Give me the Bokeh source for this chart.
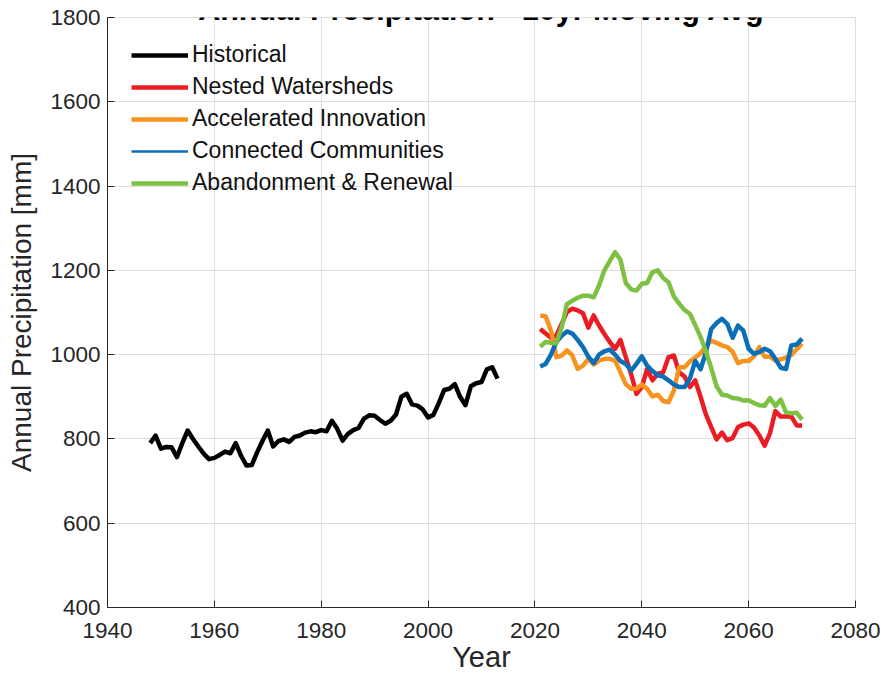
from bokeh.plotting import figure
from bokeh.models import Range1d, FixedTicker, Legend, LegendItem, Label, ColumnDataSource
from bokeh.embed import file_html
from bokeh.resources import INLINE

# ---------------- data ----------------
hist_years = list(range(1948, 2014))
hist_vals = [790, 808, 777, 781, 780, 757, 790, 820, 800, 782,
             765, 752, 755, 762, 770, 766, 790, 760, 737, 738,
             768, 795, 820, 782, 795, 799, 793, 805, 808, 815,
             818, 816, 821, 818, 843, 824, 796, 812, 821, 826,
             848, 856, 855, 845, 836, 843, 858, 900, 907, 882,
             879, 870, 851, 857, 885, 916, 919, 930, 900, 880,
             925, 932, 935, 965, 970, 943]

scen_years = list(range(2021, 2071))
nested = [1061, 1050, 1040, 1045, 1073, 1101, 1109, 1105, 1098, 1064,
          1093, 1069, 1049, 1030, 1014, 1035, 994, 954, 907, 923,
          966, 939, 955, 958, 994, 998, 958, 948, 923, 939,
          900, 858, 828, 799, 815, 797, 802, 828, 834, 837,
          827, 808, 784, 814, 866, 853, 853, 853, 832, 832]
accelerated = [1093, 1091, 1057, 994, 998, 1010, 998, 966, 974, 990,
               977, 986, 990, 990, 986, 958, 930, 919, 919, 929,
               919, 901, 905, 890, 887, 915, 970, 970, 984, 993,
               1003, 1020, 1033, 1028, 1022, 1018, 1007, 980, 985, 985,
               996, 1018, 995, 995, 986, 989, 993, 999, 1013, 1026]
connected = [972, 978, 1000, 1030, 1045, 1055, 1050, 1035, 1018, 995,
             980, 1000, 1008, 1012, 1000, 985, 978, 962, 978, 996,
             974, 961, 951, 948, 939, 929, 923, 923, 943, 985,
             965, 1005, 1061, 1075, 1085, 1073, 1040, 1069, 1057, 1014,
             1002, 1006, 1014, 1008, 990, 969, 966, 1022, 1024, 1038]
abandonment = [1019, 1030, 1028, 1027, 1065, 1120, 1128, 1135, 1140, 1140,
               1136, 1164, 1200, 1222, 1243, 1225, 1170, 1155, 1152, 1168,
               1170, 1196, 1200, 1182, 1172, 1138, 1121, 1106, 1097, 1070,
               1042, 1008, 968, 925, 905, 903, 897, 896, 891, 892,
               885, 880, 879, 897, 878, 893, 863, 861, 862, 846]

series_names = ["Historical", "Nested Watersheds", "Accelerated Innovation",
                "Connected Communities", "Abandonment & Renewal"]
series_colors = ["#000000", "#ec1c24", "#f7931e", "#0b6fb8", "#7cc142"]

x_ticks = [1940, 1960, 1980, 2000, 2020, 2040, 2060, 2080]
y_ticks = [400, 600, 800, 1000, 1200, 1400, 1600, 1800]

title_text = "Annual Precipitation - 10yr Moving Avg"
FONT = "Liberation Sans"
AX = "#262626"

# ---------------- figure ----------------
p = figure(width=885, height=681, output_backend="svg", toolbar_location=None,
           x_range=Range1d(1940, 2080), y_range=Range1d(400, 1800),
           min_border_left=107, min_border_right=30, min_border_top=17,
           min_border_bottom=74)

p.xaxis.ticker = FixedTicker(ticks=x_ticks)
p.yaxis.ticker = FixedTicker(ticks=y_ticks)
p.axis.major_tick_in = 7
p.axis.major_tick_out = 0
p.axis.minor_tick_in = 0
p.axis.minor_tick_out = 0
p.axis.axis_line_color = AX
p.axis.major_tick_line_color = AX
p.axis.major_label_text_font = FONT
p.axis.major_label_text_font_size = "22.5px"
p.axis.major_label_text_color = AX
p.axis.axis_label_text_font = FONT
p.axis.axis_label_text_font_style = "normal"
p.axis.axis_label_text_color = AX
p.xaxis.axis_label = "Year"
p.yaxis.axis_label = "Annual Precipitation [mm]"
p.xaxis.axis_label_text_font_size = "29px"
p.yaxis.axis_label_text_font_size = "28px"
p.xaxis.major_label_standoff = 15
p.yaxis.major_label_standoff = 7
p.xaxis.axis_label_standoff = 0
p.yaxis.axis_label_standoff = 10

p.grid.grid_line_color = "#dedede"
p.grid.grid_line_width = 1
p.outline_line_color = "#dedede"
p.background_fill_color = "white"
p.border_fill_color = "white"

# ---------------- lines ----------------
all_x = [hist_years, scen_years, scen_years, scen_years, scen_years]
all_y = [hist_vals, nested, accelerated, connected, abandonment]
for xs, ys, c in zip(all_x, all_y, series_colors):
    p.line(xs, ys, line_color=c, line_width=4.5, line_join="round")

# legend swatches (own renderers so swatch widths can match the reference)
legend_widths = [4.5, 4.5, 4.5, 2.5, 4.5]
nan = float("nan")
items = []
for name, c, w in zip(series_names, series_colors, legend_widths):
    r = p.line(x="x", y="y", source=ColumnDataSource(data=dict(x=[nan], y=[nan])),
               line_color=c, line_width=w)
    items.append(LegendItem(label=name, renderers=[r]))

legend = Legend(items=items, location="top_left", margin=24, padding=0,
                spacing=5, glyph_width=57, glyph_height=26, label_height=26,
                label_standoff=4, label_text_font=FONT,
                label_text_font_size="23px", label_text_color="#111111",
                border_line_color=None, background_fill_alpha=0)
p.add_layout(legend)

title = Label(x=374, y=599, x_units="screen", y_units="screen", text=title_text,
              text_align="center", text_baseline="alphabetic",
              text_font=FONT, text_font_size="30.5px", text_font_style="bold",
              text_color="#000000")
p.add_layout(title)

open("out.html", "w").write(file_html(p, INLINE))
